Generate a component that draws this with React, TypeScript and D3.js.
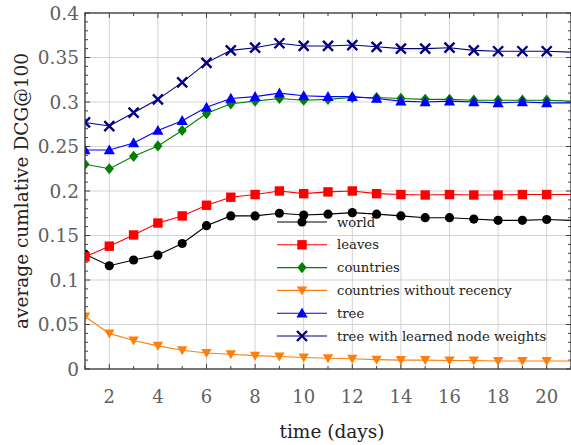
import React from "react";
import * as d3 from "d3";

const days = [1, 2, 3, 4, 5, 6, 7, 8, 9, 10, 11, 12, 13, 14, 15, 16, 17, 18, 19, 20, 21];
const world = [0.129, 0.116, 0.1225, 0.128, 0.141, 0.161, 0.172, 0.172, 0.175, 0.173, 0.174, 0.1757, 0.174, 0.172, 0.170, 0.170, 0.1685, 0.167, 0.167, 0.168, 0.167];
const leaves = [0.126, 0.138, 0.1506, 0.164, 0.172, 0.184, 0.193, 0.196, 0.200, 0.197, 0.199, 0.200, 0.197, 0.196, 0.1955, 0.196, 0.1955, 0.1955, 0.196, 0.196, 0.196];
const countries = [0.230, 0.225, 0.239, 0.2506, 0.268, 0.287, 0.298, 0.301, 0.304, 0.302, 0.303, 0.305, 0.305, 0.304, 0.303, 0.303, 0.302, 0.302, 0.302, 0.302, 0.301];
const countriesNoRecency = [0.059, 0.040, 0.032, 0.026, 0.021, 0.018, 0.0165, 0.015, 0.014, 0.013, 0.012, 0.0115, 0.0105, 0.010, 0.010, 0.0095, 0.0095, 0.009, 0.009, 0.009, 0.009];
const tree = [0.246, 0.246, 0.254, 0.268, 0.279, 0.294, 0.304, 0.306, 0.310, 0.307, 0.306, 0.306, 0.304, 0.301, 0.300, 0.301, 0.300, 0.299, 0.300, 0.299, 0.299];
const treeLearned = [0.277, 0.273, 0.288, 0.303, 0.322, 0.344, 0.358, 0.361, 0.366, 0.363, 0.363, 0.364, 0.362, 0.360, 0.360, 0.361, 0.358, 0.357, 0.357, 0.357, 0.356];

const seriesNames = ["world", "leaves", "countries", "countries without recency", "tree", "tree with learned node weights"];
const seriesValues = [world, leaves, countries, countriesNoRecency, tree, treeLearned];
const seriesColors = ["#000000", "#ff0000", "#008000", "#ff7f0e", "#0000ff", "#000080"];
const seriesMarkers = ["circle", "square", "diamond", "triDown", "triUp", "cross"];

const xTicksMajor = [2, 4, 6, 8, 10, 12, 14, 16, 18, 20];
const yTicksMajor = [0, 0.05, 0.1, 0.15, 0.2, 0.25, 0.3, 0.35, 0.4];
const yTickLabels = ["0", "0.05", "0.1", "0.15", "0.2", "0.25", "0.3", "0.35", "0.4"];

const W = 571, H = 445;
const M = { left: 85, right: 571, top: 13, bottom: 369 };
const serif = "'DejaVu Serif', serif";

function Marker({ type, x, y, color }: { type: string; x: number; y: number; color: string }) {
  switch (type) {
    case "circle":
      return <circle cx={x} cy={y} r={4.6} fill={color} />;
    case "square":
      return <rect x={x - 4.7} y={y - 4.7} width={9.4} height={9.4} fill={color} />;
    case "diamond":
      return <path d={`M${x},${y - 5.6}L${x + 4.6},${y}L${x},${y + 5.6}L${x - 4.6},${y}Z`} fill={color} />;
    case "triDown":
      return <path d={`M${x - 5.2},${y - 4}L${x + 5.2},${y - 4}L${x},${y + 5}Z`} fill={color} />;
    case "triUp":
      return <path d={`M${x - 5.6},${y + 4.3}L${x + 5.6},${y + 4.3}L${x},${y - 5.6}Z`} fill={color} />;
    case "cross":
      return (
        <path
          d={`M${x - 5},${y - 5}L${x + 5},${y + 5}M${x - 5},${y + 5}L${x + 5},${y - 5}`}
          stroke={color}
          strokeWidth={2.4}
          fill="none"
        />
      );
    default:
      return null;
  }
}

export default function App() {
  const x = d3.scaleLinear().domain([1, 21]).range([M.left, M.right]);
  const y = d3.scaleLinear().domain([0, 0.4]).range([M.bottom, M.top]);
  const line = d3
    .line<number>()
    .x((_, i) => x(days[i]))
    .y((d) => y(d));

  const xMinor = d3.range(1, 22);
  const yMinor = d3.range(0, 41).map((v) => v / 100);
  const frame = "#3f3f3f";
  const grid = "#d3d3d3";

  const legX = 277;
  const legY0 = 222;
  const legStep = 22.8;

  return (
    <svg width={W} height={H} style={{ position: "absolute", left: 0, top: 0 }}>
      <defs>
        <clipPath id="plotClip">
          <rect x={M.left} y={M.top - 8} width={M.right - M.left} height={M.bottom - M.top + 16} />
        </clipPath>
      </defs>
      <rect x={0} y={0} width={W} height={H} fill="#fff" />
      {/* grid */}
      {xTicksMajor.map((d) => (
        <line key={"gx" + d} x1={x(d)} x2={x(d)} y1={M.top} y2={M.bottom} stroke={grid} strokeWidth={1} />
      ))}
      {yTicksMajor.slice(1, -1).map((d) => (
        <line key={"gy" + d} x1={M.left} x2={M.right} y1={y(d)} y2={y(d)} stroke={grid} strokeWidth={1} />
      ))}
      {/* ticks */}
      {xMinor.map((d) => {
        const len = d % 2 === 0 ? 5 : 3;
        return (
          <g key={"xt" + d}>
            <line x1={x(d)} x2={x(d)} y1={M.bottom} y2={M.bottom - len} stroke={frame} strokeWidth={1} />
            <line x1={x(d)} x2={x(d)} y1={M.top} y2={M.top + len} stroke={frame} strokeWidth={1} />
          </g>
        );
      })}
      {yMinor.map((d, i) => {
        const len = i % 5 === 0 ? 5 : 3;
        return (
          <g key={"yt" + i}>
            <line x1={M.left} x2={M.left + len} y1={y(d)} y2={y(d)} stroke={frame} strokeWidth={1} />
            <line x1={M.right} x2={M.right - len} y1={y(d)} y2={y(d)} stroke={frame} strokeWidth={1} />
          </g>
        );
      })}
      {/* series */}
      <g clipPath="url(#plotClip)">
        {seriesValues.map((vals, si) => (
          <g key={"s" + si}>
            <path d={line(vals) || ""} fill="none" stroke={seriesColors[si]} strokeWidth={1.1} />
            {vals.map((v, i) =>
              days[i] <= 20 ? (
                <Marker key={i} type={seriesMarkers[si]} x={x(days[i])} y={y(v)} color={seriesColors[si]} />
              ) : null
            )}
          </g>
        ))}
      </g>
      {/* frame */}
      <rect x={M.left} y={M.top} width={M.right - M.left} height={M.bottom - M.top} fill="none" stroke={frame} strokeWidth={1.4} />
      {/* tick labels */}
      {xTicksMajor.map((d) => (
        <text key={"xl" + d} x={x(d)} y={403} textAnchor="middle" fontFamily={serif} fontSize={18} fill="#606060">
          {d}
        </text>
      ))}
      {yTicksMajor.map((d, i) => (
        <text key={"yl" + i} x={79} y={y(d) + 6.5} textAnchor="end" fontFamily={serif} fontSize={18.5} fill="#606060">
          {yTickLabels[i]}
        </text>
      ))}
      {/* axis titles */}
      <text x={332} y={438} textAnchor="middle" fontFamily={serif} fontSize={18.5} fill="#222">
        time (days)
      </text>
      <text
        transform={`translate(28, ${(M.top + M.bottom) / 2}) rotate(-90)`}
        textAnchor="middle"
        fontFamily={serif}
        fontSize={18.5}
        fill="#222"
      >
        average cumlative DCG@100
      </text>
      {/* legend */}
      {seriesNames.map((name, i) => {
        const ly = legY0 + i * legStep;
        return (
          <g key={"lg" + i}>
            <line x1={legX} x2={legX + 50} y1={ly} y2={ly} stroke={seriesColors[i]} strokeWidth={1.1} />
            <Marker type={seriesMarkers[i]} x={legX + 25} y={ly} color={seriesColors[i]} />
            <text x={legX + 60} y={ly + 4.5} fontFamily={serif} fontSize={13.2} fill="#222">
              {name}
            </text>
          </g>
        );
      })}
    </svg>
  );
}
